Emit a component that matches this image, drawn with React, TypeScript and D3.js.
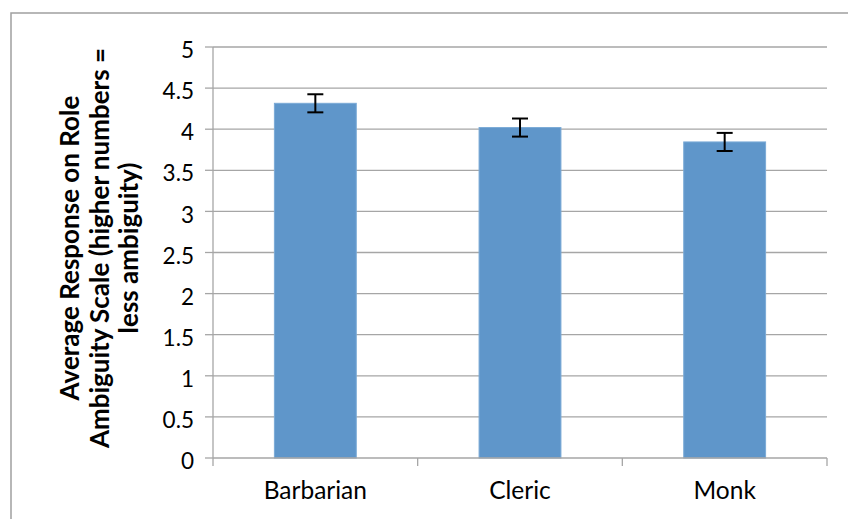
import React from "react";
import * as d3 from "d3";

const categories = ["Barbarian", "Cleric", "Monk"];
const values = [4.315, 4.02, 3.845];
const errors = [0.11, 0.11, 0.11];
const yTicks = [0, 0.5, 1, 1.5, 2, 2.5, 3, 3.5, 4, 4.5, 5];
const titleLines = [
  "Average Response on Role",
  "Ambiguity Scale (higher numbers =",
  "less ambiguity)",
];

const W = 848;
const H = 519;
const plot = { left: 213, right: 827, top: 47, bottom: 458 };
const font = "Lato, 'Open Sans', sans-serif";

export default function App() {
  const x = d3
    .scaleBand<string>()
    .domain(categories)
    .range([plot.left, plot.right])
    .paddingInner(0.6)
    .paddingOuter(0.3);
  const band = d3.scaleBand<string>().domain(categories).range([plot.left, plot.right]);
  const y = d3.scaleLinear().domain([0, 5]).range([plot.bottom, plot.top]);
  const grid = "#a6a6a6";
  const titleCy = 248;

  return (
    <svg
      width={W}
      height={H}
      style={{ position: "absolute", left: 0, top: 0, background: "#fff" }}
    >
      <rect x={11} y={13} width={W} height={H} fill="#fff" stroke="#a0a0a0" strokeWidth={1.5} />
      {yTicks.map((t) => (
        <g key={t}>
          {t > 0 && (
            <line x1={plot.left} x2={plot.right} y1={y(t)} y2={y(t)} stroke={grid} strokeWidth={1.3} />
          )}
          <line x1={plot.left - 8} x2={plot.left} y1={y(t)} y2={y(t)} stroke={grid} strokeWidth={1.3} />
          <text
            x={plot.left - 19}
            y={y(t) + 3}
            dy="0.36em"
            textAnchor="end"
            fontFamily={font}
            fontSize={22.5}
            fill="#000"
          >
            {String(t)}
          </text>
        </g>
      ))}
      {categories.map((c, i) => (
        <g key={c}>
          <rect
            x={x(c)}
            y={y(values[i])}
            width={x.bandwidth()}
            height={y(0) - y(values[i])}
            fill="#5f96ca"
            stroke="#7aaad6"
            strokeWidth={1}
          />
          <g stroke="#000" strokeWidth={2}>
            <line
              x1={x(c)! + x.bandwidth() / 2}
              x2={x(c)! + x.bandwidth() / 2}
              y1={y(values[i] + errors[i])}
              y2={y(values[i] - errors[i])}
            />
            <line
              x1={x(c)! + x.bandwidth() / 2 - 8}
              x2={x(c)! + x.bandwidth() / 2 + 8}
              y1={y(values[i] + errors[i])}
              y2={y(values[i] + errors[i])}
            />
            <line
              x1={x(c)! + x.bandwidth() / 2 - 8}
              x2={x(c)! + x.bandwidth() / 2 + 8}
              y1={y(values[i] - errors[i])}
              y2={y(values[i] - errors[i])}
            />
          </g>
          <text
            x={band(c)! + band.bandwidth() / 2}
            y={499}
            textAnchor="middle"
            fontFamily={font}
            fontSize={24.5}
            fill="#000"
          >
            {c}
          </text>
        </g>
      ))}
      <line x1={plot.left} x2={plot.left} y1={plot.top} y2={plot.bottom} stroke={grid} strokeWidth={1.3} />
      <line x1={plot.left} x2={plot.right} y1={plot.bottom} y2={plot.bottom} stroke={grid} strokeWidth={1.3} />
      {[...categories.map((c) => band(c)!), plot.right].map((tx, i) => (
        <line key={i} x1={tx} x2={tx} y1={plot.bottom} y2={plot.bottom + 8} stroke={grid} strokeWidth={1.3} />
      ))}
      <g transform={`translate(0, ${titleCy}) rotate(-90)`}>
        {titleLines.map((l, i) => (
          <text
            key={i}
            x={0}
            y={79 + i * 29.5}
            textAnchor="middle"
            fontFamily={font}
            fontWeight="bold"
            fontSize={26}
            fill="#000"
          >
            {l}
          </text>
        ))}
      </g>
    </svg>
  );
}
